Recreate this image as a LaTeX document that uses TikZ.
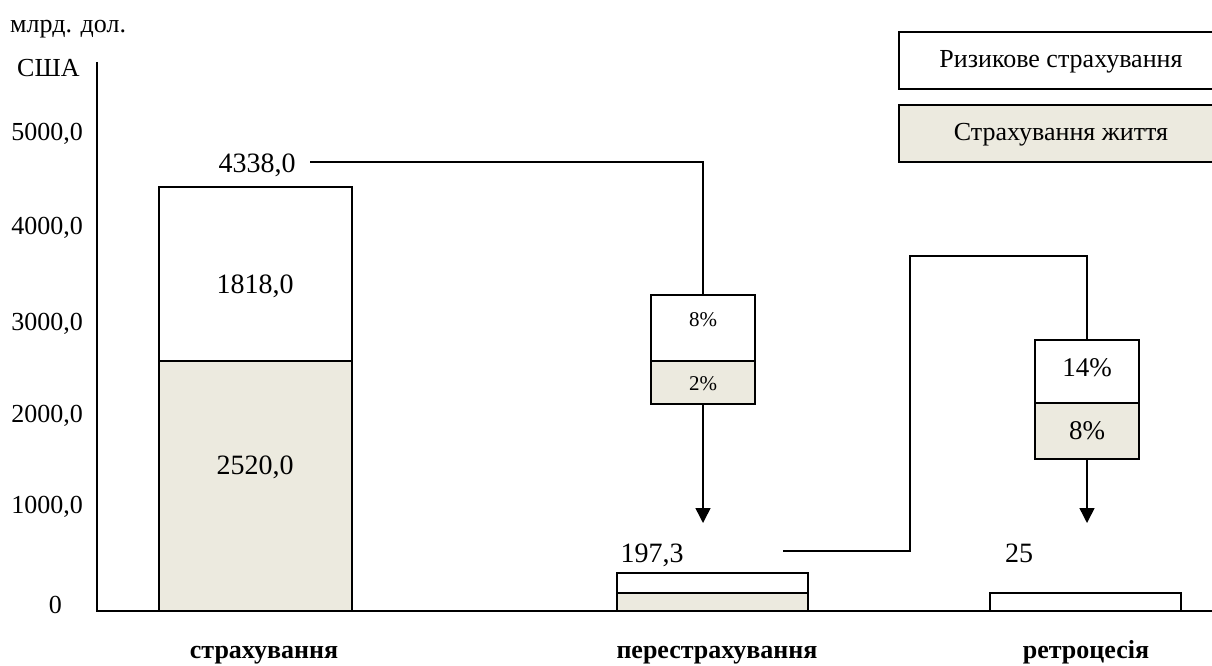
\documentclass[tikz,border=0pt]{standalone}
\usepackage{fontspec}
\setmainfont{Liberation Serif}
\usetikzlibrary{arrows.meta}
\definecolor{lifefill}{RGB}{236,234,223}
\begin{document}
\begin{tikzpicture}[x=1pt, y=-1pt,
  bx/.style={draw, line width=1.4pt, inner sep=0pt, outer sep=0pt, anchor=north west},
  risk/.style={bx, fill=white},
  life/.style={bx, fill=lifefill},
  conn/.style={line width=1.5pt},
  arr/.style={conn, -{Triangle[length=15pt, width=15pt]}},
  txt/.style={inner sep=0pt, anchor=base, font=\fontsize{26}{30}\selectfont},
  val/.style={inner sep=0pt, anchor=base, font=\fontsize{28}{32}\selectfont},
  tick/.style={inner sep=0pt, anchor=base east, font=\fontsize{26}{30}\selectfont},
  cat/.style={inner sep=0pt, anchor=base, font=\fontsize{26}{30}\selectfont\bfseries}]
\useasboundingbox (0,0) rectangle (1212,666);

% units and value axis
\node[txt, anchor=base west] (unit) at (10,33) {млрд. дол.};
\node[txt, anchor=base west] (usa) at (17,77) {США};
\node[tick] (t5) at (83,140) {5000,0};
\node[tick] (t4) at (83,234) {4000,0};
\node[tick] (t3) at (83,330) {3000,0};
\node[tick] (t2) at (83,422) {2000,0};
\node[tick] (t1) at (83,513) {1000,0};
\node[tick] (t0) at (62,613) {0};

% legend
\node[risk, minimum width=330pt, minimum height=57pt] (legr) at (899,32) {};
\node[life, minimum width=330pt, minimum height=57pt] (legl) at (899,105) {};
\node[txt] (legrt) at (1061,68) {Ризикове страхування};
\node[txt] (leglt) at (1061,140) {Страхування життя};

% insurance bar
\node[risk, minimum width=193pt, minimum height=174pt] (b1r) at (159,187) {};
\node[life, minimum width=193pt, minimum height=250pt] (b1l) at (159,361) {};
\node[val] (v1r) at (255,293) {1818,0};
\node[val] (v1l) at (255,474) {2520,0};
\node[val] (v1) at (257,172) {4338,0};

% reinsurance bar
\node[risk, minimum width=191pt, minimum height=20pt] (b2r) at (617,573) {};
\node[life, minimum width=191pt, minimum height=18pt] (b2l) at (617,593) {};
\node[val] (v2) at (652,562) {197,3};

% retrocession bar
\node[risk, minimum width=191pt, minimum height=18pt] (b3r) at (990,593) {};
\node[val] (v3) at (1019,562) {25};

% share boxes
\node[risk, minimum width=104pt, minimum height=66pt] (s2r) at (651,295) {};
\node[life, minimum width=104pt, minimum height=43pt] (s2l) at (651,361) {};
\node[inner sep=0pt, anchor=base, font=\fontsize{21}{24}\selectfont] (p2r) at (703,326) {8\%};
\node[inner sep=0pt, anchor=base, font=\fontsize{21}{24}\selectfont] (p2l) at (703,390) {2\%};

\node[risk, minimum width=104pt, minimum height=63pt] (s3r) at (1035,340) {};
\node[life, minimum width=104pt, minimum height=56pt] (s3l) at (1035,403) {};
\node[val, font=\fontsize{27}{30}\selectfont] (p3r) at (1087,376) {14\%};
\node[val, font=\fontsize{27}{30}\selectfont] (p3l) at (1087,439) {8\%};

% axes
\draw[line width=1.4pt] (97,62) -- (97,611) -- (1214,611);

% connectors
\coordinate (c1) at (310,162);
\draw[conn] (c1) -| (s2r.north);
\coordinate (a2) at (s2l.south |- 0,523);
\draw[arr] (s2l.south) -- (a2);

\coordinate (c2) at (783,551);
\coordinate (c2k) at (910,551);
\coordinate (c2u) at (910,256);
\draw[conn] (c2) -- (c2k) -- (c2u) -| (s3r.north);
\coordinate (a3) at (s3l.south |- 0,523);
\draw[arr] (s3l.south) -- (a3);

% categories
\node[cat] (k1) at (264,658) {страхування};
\node[cat] (k2) at (717,658) {перестрахування};
\node[cat] (k3) at (1086,658) {ретроцесія};
\end{tikzpicture}
\end{document}
